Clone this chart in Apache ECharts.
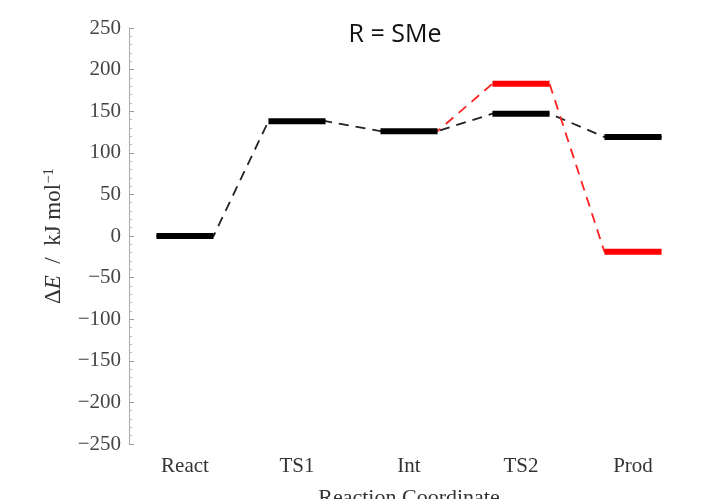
<!DOCTYPE html>
<html>
<head>
<meta charset="utf-8">
<script src="https://cdn.jsdelivr.net/npm/echarts@6/dist/echarts.min.js"></script>
<style>
  html, body { margin: 0; padding: 0; background: #fff; }
  #chart { width: 719px; height: 499px; }
</style>
</head>
<body>
<div id="chart"></div>
<script>
// states along the reaction coordinate
const states = ['React', 'TS1', 'Int', 'TS2', 'Prod'];
// energies in kJ/mol
const pathBlack = [0, 138, 126, 147, 119];
// the red branch leaves from Int (index 2)
const redStates = [2, 3, 4];
const pathRed = [126, 183, -19];
const yTicks = { min: -250, max: 250, step: 50 };

const halfW = 0.255; // half width of a level bar, in category units

// build [x, y] points for the dashed connector path
function pathPoints(idx, vals) {
  const pts = [];
  idx.forEach(function (i, k) {
    pts.push([i + 0.5 - halfW, vals[k]]);
    pts.push([i + 0.5 + halfW, vals[k]]);
  });
  return pts;
}
const blackIdx = states.map(function (s, i) { return i; });

function levelSeries(idx, vals, color) {
  return {
    type: 'custom',
    xAxisIndex: 1,
    z: 5,
    data: idx.map(function (i, k) { return [i + 0.5, vals[k]]; }),
    renderItem: function (params, api) {
      const x = api.value(0), y = api.value(1);
      const a = api.coord([x - halfW, y]);
      const b = api.coord([x + halfW, y]);
      return {
        type: 'line',
        shape: { x1: a[0], y1: a[1], x2: b[0], y2: b[1] },
        style: { stroke: color, lineWidth: 6 }
      };
    }
  };
}

const chart = echarts.init(document.getElementById('chart'));
const serif = '"Liberation Serif", "DejaVu Serif", serif';

chart.setOption({
  animation: false,
  backgroundColor: '#fff',
  title: {
    text: 'R = SMe',
    left: 390,
    top: 17,
    textAlign: 'center',
    textStyle: { fontFamily: '"Open Sans", "Noto Sans", sans-serif', fontSize: 25, fontWeight: 'normal', color: '#111' }
  },
  grid: { left: 129, right: 30, top: 28, bottom: 55, outerBoundsMode: 'none', containLabel: false },
  xAxis: [
    {
      type: 'category',
      data: states,
      boundaryGap: true,
      axisLine: { show: false },
      axisTick: { show: false },
      axisLabel: { margin: 12, fontFamily: serif, fontSize: 21, color: '#333' },
      name: 'Reaction Coordinate',
      nameLocation: 'middle',
      nameGap: 43,
      nameTextStyle: { fontFamily: serif, fontSize: 22, color: '#333' }
    },
    {
      type: 'value',
      min: 0,
      max: states.length,
      show: false
    }
  ],
  yAxis: {
    type: 'value',
    min: yTicks.min,
    max: yTicks.max,
    interval: yTicks.step,
    axisLine: { show: true, lineStyle: { color: '#aaa', width: 1 } },
    axisTick: { show: true, inside: true, length: 5, lineStyle: { color: '#999' } },
    minorTick: { show: true, splitNumber: 5, length: 3, lineStyle: { color: '#bbb' } },
    splitLine: { show: false },
    axisLabel: {
      margin: 8,
      fontFamily: serif,
      fontSize: 21,
      color: '#444',
      formatter: function (v) { return String(v).replace('-', '\u2212'); }
    },
    name: '{n|\u0394}{it|E}{n|\u2002/\u2002kJ mol}{s|\u22121}',
    nameLocation: 'middle',
    nameRotate: 90,
    nameGap: 64,
    nameTextStyle: {
      fontFamily: serif,
      fontSize: 23,
      color: '#333',
      rich: {
        n: { fontFamily: serif, fontSize: 23, color: '#333' },
        it: { fontFamily: serif, fontSize: 23, fontStyle: 'italic', color: '#333' },
        s: { fontFamily: serif, fontSize: 15, color: '#333', verticalAlign: 'top' }
      }
    }
  },
  series: [
    {
      type: 'line',
      xAxisIndex: 1,
      data: pathPoints(blackIdx, pathBlack),
      symbol: 'none',
      z: 2,
      lineStyle: { color: '#222', width: 1.8, type: [10, 7] }
    },
    {
      type: 'line',
      xAxisIndex: 1,
      data: pathPoints(redStates, pathRed),
      symbol: 'none',
      z: 3,
      lineStyle: { color: '#ff2020', width: 1.8, type: [10, 7] }
    },
    levelSeries(blackIdx, pathBlack, '#000'),
    levelSeries(redStates.slice(1), pathRed.slice(1), '#ff0000')
  ]
});
</script>
</body>
</html>
